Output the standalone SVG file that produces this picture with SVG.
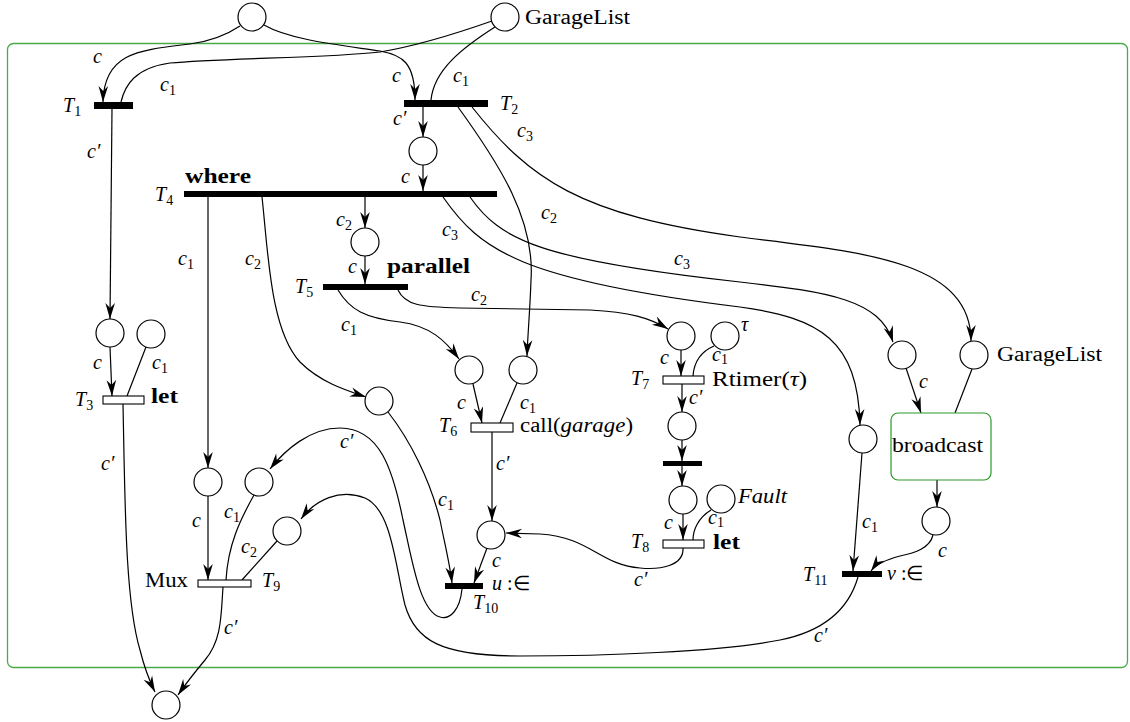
<svg xmlns="http://www.w3.org/2000/svg" width="1130" height="722" viewBox="0 0 1130 722">
<style>
.pl{fill:#fff;stroke:#000;stroke-width:1.2}
.tb{fill:#000;stroke:none}
.tw{fill:#fff;stroke:#000;stroke-width:1.1}
.e{fill:none;stroke:#000;stroke-width:1.2}
.a{marker-end:url(#ar)}
.m{font-family:"Liberation Serif","Times New Roman",serif;font-style:italic;font-size:20px;fill:#000}
.r{font-family:"Liberation Serif","Times New Roman",serif;font-size:20px;fill:#000}
.bd{font-family:"Liberation Serif","Times New Roman",serif;font-weight:bold;font-size:20px;fill:#000}
.sb{font-style:normal;font-size:14px}
</style>
<defs>
<marker id="ar" viewBox="-17 -6 18 12" refX="0" refY="0" markerWidth="18" markerHeight="12" markerUnits="userSpaceOnUse" orient="auto">
<path d="M0,0 L-16,-4.8 L-11,0 L-16,4.8 Z" fill="#000"/>
</marker>
</defs>
<rect id="frame" x="7.5" y="43.5" width="1120" height="624" rx="6" fill="none" stroke="#4aaa4a" stroke-width="1.3"/>

<g id="connectors">
<path class="e a" d="M240,26 C225,36 205,42 190,44 C140,50 104,52 103,102"/>
<path class="e" d="M492,21 C455,34 410,47 380,52 C330,58 220,58 170,63 C135,68 125,85 121,102"/>
<path class="e a" d="M264,25 C290,40 340,45 380,51 C402,55 415,62 415,100"/>
<path class="e" d="M495,27 C462,48 434,70 431,100"/>
<path class="e a" d="M423,107 L423,137"/>
<path class="e a" d="M423,165 L423,191"/>
<path class="e a" d="M472,107 C530,180 580,215 740,237 C860,252 971,260 971,341"/>
<path class="e a" d="M458,107 C500,165 535,220 531,280 C530,310 528,330 527,356"/>
<path class="e a" d="M208,197 L208,468"/>
<path class="e a" d="M262,197 C268,250 270,330 300,362 C320,382 345,390 366,397"/>
<path class="e a" d="M365,197 L365,228"/>
<path class="e a" d="M470,197 C500,240 540,260 740,282 C830,292 880,300 893,342"/>
<path class="e a" d="M443,197 C480,250 520,280 740,307 C820,318 858,340 860,425"/>
<path class="e a" d="M365,256 L365,284"/>
<path class="e a" d="M338,290 C350,310 365,318 400,322 C430,326 445,340 459,359"/>
<path class="e a" d="M398,290 C405,305 420,307 460,308 L590,310 C630,312 650,318 668,329"/>
<path class="e a" d="M473,384 L482,423"/>
<path class="e" d="M517,383 L500,423"/>
<path class="e a" d="M492,432 L492,521"/>
<path class="e a" d="M681,350 L681,376"/>
<path class="e" d="M714,346 C700,352 694,362 693,376"/>
<path class="e a" d="M682,384 L682,412"/>
<path class="e a" d="M682,440 L682,461"/>
<path class="e a" d="M682,466 L682,486"/>
<path class="e a" d="M683,514 L683,540"/>
<path class="e" d="M711,510 C698,518 693,530 693,540"/>
<path class="e a" d="M683,548 C684,566 660,570 640,568 C600,565 590,537 540,534 L506,533"/>
<path class="e a" d="M487,548 L474,583"/>
<path class="e a" d="M388,412 C410,440 430,480 440,520 C445,545 450,565 452,583"/>
<path class="e a" d="M462,589 C460,610 450,620 440,617 C420,612 412,560 403,520 C393,470 380,428 340,428 C310,428 285,450 270,469"/>
<path class="e a" d="M858,577 C850,605 830,630 780,640 C720,652 600,656 520,656 C440,656 415,640 405,605 C395,565 392,510 365,498 C340,488 315,500 301,519"/>
<path class="e a" d="M208,496 L208,580"/>
<path class="e" d="M254,495 C240,520 228,545 226,580"/>
<path class="e" d="M277,541 L242,580"/>
<path class="e a" d="M223,587 C221,615 222,640 205,660 C195,672 187,682 178,695"/>
<path class="e a" d="M123,404 C125,500 125,600 140,650 C145,670 150,682 155,692"/>
<path class="e a" d="M112,109 L110,319"/>
<path class="e a" d="M110,347 L112,396"/>
<path class="e" d="M146,347 L127,396"/>
<path class="e a" d="M906,368 L921,413"/>
<path class="e" d="M972,369 L955,413"/>
<path class="e a" d="M937,480 L937,507"/>
<path class="e a" d="M933,535 C930,548 915,553 900,556 C885,560 876,564 871,571"/>
<path class="e a" d="M862,453 L853,571"/>
</g>

<g id="p_top"><circle class="pl" cx="252" cy="17" r="14"/></g>
<g id="p_gl"><circle class="pl" cx="505" cy="17" r="14"/><text class="r" x="525" y="24" textLength="105" lengthAdjust="spacingAndGlyphs">GarageList</text></g>
<g id="t1"><rect class="tb" x="94" y="102" width="39" height="7"/><text class="m" x="63" y="112">T<tspan class="sb" dy="4">1</tspan></text></g>
<g id="t2"><rect class="tb" x="404" y="100" width="84" height="7"/><text class="m" x="500" y="110">T<tspan class="sb" dy="4">2</tspan></text></g>
<g id="p_a"><circle class="pl" cx="423" cy="151" r="14"/></g>
<g id="t4"><rect class="tb" x="184" y="191" width="313" height="6"/><text class="m" x="155" y="201">T<tspan class="sb" dy="4">4</tspan></text><text class="bd" x="185" y="183" textLength="66" lengthAdjust="spacingAndGlyphs">where</text></g>
<g id="p_b"><circle class="pl" cx="365" cy="242" r="14"/></g>
<g id="t5"><rect class="tb" x="323" y="284" width="85" height="6"/><text class="m" x="295" y="293">T<tspan class="sb" dy="4">5</tspan></text><text class="bd" x="387" y="273" textLength="83" lengthAdjust="spacingAndGlyphs">parallel</text></g>
<g id="p_t3a"><circle class="pl" cx="110" cy="333" r="14"/></g>
<g id="p_t3b"><circle class="pl" cx="151" cy="334" r="14"/></g>
<g id="t3"><rect class="tw" x="103" y="396" width="41" height="8"/><text class="m" x="75" y="406">T<tspan class="sb" dy="4">3</tspan></text><text class="bd" x="151" y="403" textLength="27" lengthAdjust="spacingAndGlyphs">let</text></g>
<g id="p_w"><circle class="pl" cx="379" cy="401" r="14"/></g>
<g id="p_t6a"><circle class="pl" cx="469" cy="370" r="14"/></g>
<g id="p_t6b"><circle class="pl" cx="523" cy="370" r="14"/></g>
<g id="t6"><rect class="tw" x="471" y="423" width="42" height="9"/><text class="m" x="439" y="432">T<tspan class="sb" dy="4">6</tspan></text><text class="r" x="520" y="432" textLength="113" lengthAdjust="spacingAndGlyphs">call(<tspan font-style="italic">garage</tspan>)</text></g>
<g id="p_t7a"><circle class="pl" cx="681" cy="336" r="14"/></g>
<g id="p_tau"><circle class="pl" cx="725" cy="336" r="14"/><text class="m" x="741" y="331">τ</text></g>
<g id="t7"><rect class="tw" x="663" y="376" width="41" height="8"/><text class="m" x="631" y="385">T<tspan class="sb" dy="4">7</tspan></text><text class="r" x="712" y="386" textLength="95" lengthAdjust="spacingAndGlyphs">Rtimer(<tspan font-style="italic">τ</tspan>)</text></g>
<g id="p_t7out"><circle class="pl" cx="682" cy="426" r="14"/></g>
<g id="t_bar"><rect class="tb" x="663" y="461" width="39" height="5"/></g>
<g id="p_t8a"><circle class="pl" cx="683" cy="500" r="14"/></g>
<g id="p_fault"><circle class="pl" cx="721" cy="499" r="14"/><text class="m" x="738" y="503" textLength="49" lengthAdjust="spacingAndGlyphs">Fault</text></g>
<g id="t8"><rect class="tw" x="663" y="540" width="41" height="8"/><text class="m" x="631" y="548">T<tspan class="sb" dy="4">8</tspan></text><text class="bd" x="713" y="549" textLength="27" lengthAdjust="spacingAndGlyphs">let</text></g>
<g id="p_c3"><circle class="pl" cx="902" cy="355" r="14"/></g>
<g id="p_gl2"><circle class="pl" cx="974" cy="355" r="14"/><text class="r" x="997" y="361" textLength="105" lengthAdjust="spacingAndGlyphs">GarageList</text></g>
<g id="broadcast"><rect x="891" y="413" width="100" height="67" rx="7" fill="#fff" stroke="#2a9a2a" stroke-width="1.2"/><text class="r" x="892" y="452" textLength="91" lengthAdjust="spacingAndGlyphs">broadcast</text></g>
<g id="p_bc"><circle class="pl" cx="936" cy="521" r="14"/></g>
<g id="p_t11a"><circle class="pl" cx="863" cy="439" r="14"/></g>
<g id="t11"><rect class="tb" x="842" y="571" width="40" height="6"/><text class="m" x="803" y="581">T<tspan class="sb" dy="4">11</tspan></text><text class="m" x="887" y="580">v <tspan font-style="normal">:∈</tspan></text></g>
<g id="p_t10"><circle class="pl" cx="491" cy="535" r="14"/></g>
<g id="t10"><rect class="tb" x="445" y="583" width="38" height="6"/><text class="m" x="492" y="590">u <tspan font-style="normal">:∈</tspan></text><text class="m" x="473" y="609">T<tspan class="sb" dy="4">10</tspan></text></g>
<g id="p_m1"><circle class="pl" cx="208" cy="482" r="14"/></g>
<g id="p_m2"><circle class="pl" cx="259" cy="482" r="14"/></g>
<g id="p_m3"><circle class="pl" cx="287" cy="531" r="14"/></g>
<g id="t9"><rect class="tw" x="198" y="580" width="53" height="7"/><text class="r" x="145" y="587" textLength="43" lengthAdjust="spacingAndGlyphs">Mux</text><text class="m" x="262" y="587">T<tspan class="sb" dy="4">9</tspan></text></g>
<g id="p_final"><circle class="pl" cx="166" cy="705" r="14"/></g>

<g id="labels">
<text class="m" x="93" y="63">c</text>
<text class="m" x="160" y="91">c<tspan class="sb" dy="4">1</tspan></text>
<text class="m" x="87" y="158">c′</text>
<text class="m" x="392" y="82">c</text>
<text class="m" x="453" y="82">c<tspan class="sb" dy="4">1</tspan></text>
<text class="m" x="393" y="125">c′</text>
<text class="m" x="517" y="137">c<tspan class="sb" dy="4">3</tspan></text>
<text class="m" x="401" y="183">c</text>
<text class="m" x="541" y="219">c<tspan class="sb" dy="4">2</tspan></text>
<text class="m" x="442" y="236">c<tspan class="sb" dy="4">3</tspan></text>
<text class="m" x="336" y="226">c<tspan class="sb" dy="4">2</tspan></text>
<text class="m" x="178" y="265">c<tspan class="sb" dy="4">1</tspan></text>
<text class="m" x="245" y="265">c<tspan class="sb" dy="4">2</tspan></text>
<text class="m" x="348" y="273">c</text>
<text class="m" x="471" y="301">c<tspan class="sb" dy="4">2</tspan></text>
<text class="m" x="674" y="265">c<tspan class="sb" dy="4">3</tspan></text>
<text class="m" x="341" y="331">c<tspan class="sb" dy="4">1</tspan></text>
<text class="m" x="93" y="369">c</text>
<text class="m" x="152" y="369">c<tspan class="sb" dy="4">1</tspan></text>
<text class="m" x="101" y="470">c′</text>
<text class="m" x="457" y="409">c</text>
<text class="m" x="520" y="409">c<tspan class="sb" dy="4">1</tspan></text>
<text class="m" x="496" y="470">c′</text>
<text class="m" x="660" y="364">c</text>
<text class="m" x="712" y="361">c<tspan class="sb" dy="3">1</tspan></text>
<text class="m" x="689" y="404">c′</text>
<text class="m" x="340" y="448">c′</text>
<text class="m" x="438" y="506">c<tspan class="sb" dy="4">1</tspan></text>
<text class="m" x="192" y="527">c</text>
<text class="m" x="224" y="518">c<tspan class="sb" dy="4">1</tspan></text>
<text class="m" x="241" y="553">c<tspan class="sb" dy="4">2</tspan></text>
<text class="m" x="224" y="634">c′</text>
<text class="m" x="492" y="567">c</text>
<text class="m" x="634" y="586">c′</text>
<text class="m" x="664" y="529">c</text>
<text class="m" x="708" y="524">c<tspan class="sb" dy="3">1</tspan></text>
<text class="m" x="919" y="388">c</text>
<text class="m" x="862" y="528">c<tspan class="sb" dy="4">1</tspan></text>
<text class="m" x="938" y="557">c</text>
<text class="m" x="814" y="642">c′</text>
</g>
</svg>
